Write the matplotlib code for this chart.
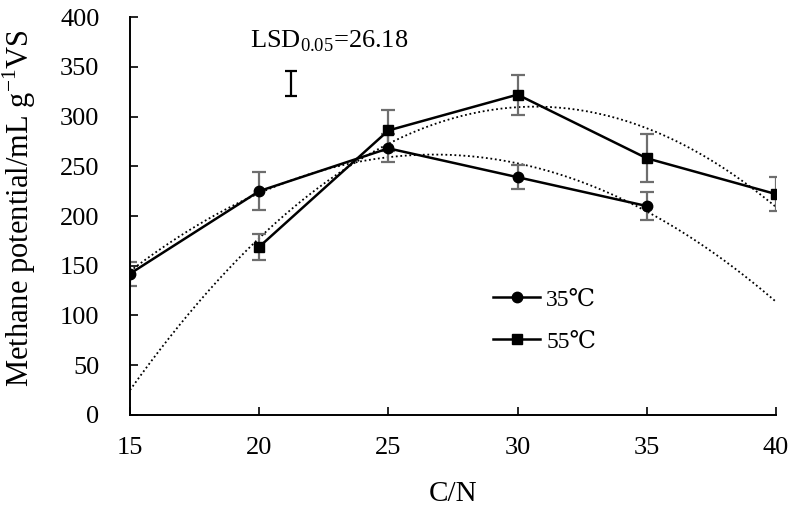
import numpy as np
import matplotlib
matplotlib.use("Agg")
import matplotlib.pyplot as plt

plt.rcParams['font.family'] = ['Liberation Serif', 'DejaVu Serif']
plt.rcParams['mathtext.fontset'] = 'custom'
plt.rcParams['mathtext.rm'] = 'Liberation Serif'

# data
cn_35 = [15, 20, 25, 30, 35]
ch4_35 = [142, 225, 268, 239, 210]
err_35 = [12, 19, 14, 12, 14]

cn_55 = [20, 25, 30, 35, 40]
ch4_55 = [169, 286, 322, 258, 222]
err_55 = [13, 21, 20, 24, 17]

lsd_x = 21.23
lsd_mid = 333.5
lsd_half = 12.5

fig = plt.figure(figsize=(7.96, 5.08), dpi=100)
ax = fig.add_axes([0.1633, 0.1831, 0.8116, 0.7834])

# polynomial trend lines (2nd order, like Excel)
xs = np.linspace(15, 40, 200)
p35 = np.polyfit(cn_35, ch4_35, 2)
p55 = np.polyfit(cn_55, ch4_55, 2)
ax.plot(xs, np.polyval(p35, xs), color='black', ls=(0, (1, 1.5)), lw=1.3)
ax.plot(xs, np.polyval(p55, xs), color='black', ls=(0, (1, 1.5)), lw=1.3)

ax.errorbar(cn_35, ch4_35, yerr=err_35, fmt='none', ecolor='#6e6e6e',
            elinewidth=1.6, capsize=5, capthick=1.6)
ax.errorbar(cn_55, ch4_55, yerr=err_55, fmt='none', ecolor='#6e6e6e',
            elinewidth=1.6, capsize=5, capthick=1.6)
ax.plot(cn_35, ch4_35, color='black', lw=1.8, marker='o', ms=7.5, label='35℃')
ax.plot(cn_55, ch4_55, color='black', lw=1.8, marker='s', ms=7.5, label='55℃')

# LSD bar
ax.errorbar([lsd_x], [lsd_mid], yerr=[lsd_half], fmt='none', ecolor='black',
            elinewidth=1.6, capsize=4, capthick=1.6)
ax.text(22.7, 376, 'LSD$_{0.05}$=26.18', ha='center', va='center', fontsize=19)

ax.set_xlim(15, 40)
ax.set_ylim(0, 400)
ax.set_xticks(range(15, 41, 5))
ax.set_yticks(range(0, 401, 50))
ax.tick_params(direction='in', length=6, width=1.2, labelsize=19)
ax.tick_params(axis='x', pad=16)
ax.tick_params(axis='y', pad=22)
ax.spines['top'].set_visible(False)
ax.spines['right'].set_visible(False)
for s in ['left', 'bottom']:
    ax.spines[s].set_linewidth(1.4)

ax.set_xlabel('C/N', fontsize=21, labelpad=16)
ax.set_ylabel('Methane potential/mL g$^{-1}$VS', fontsize=22)
ax.yaxis.set_label_coords(-0.142, 0.52)

ax.legend(loc='upper left', bbox_to_anchor=(0.562, 0.316), frameon=False,
          borderpad=0, borderaxespad=0,
          fontsize=17, handlelength=2.0, handletextpad=0.25, labelspacing=0.85)

fig.savefig('out.png', dpi=100)
